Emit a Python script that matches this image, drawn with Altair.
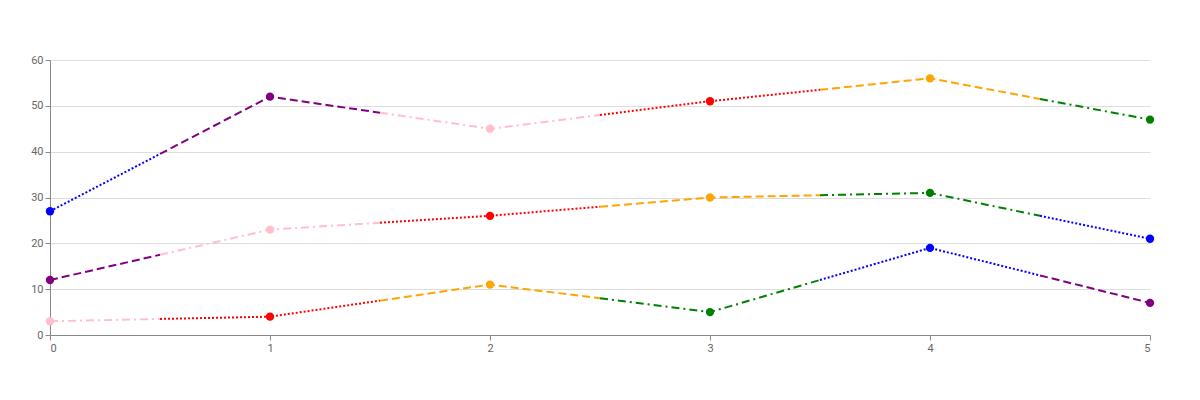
import altair as alt
import pandas as pd

xs = [0, 1, 2, 3, 4, 5]
top_vals = [27, 52, 45, 51, 56, 47]
top_cols = ["blue", "purple", "pink", "red", "orange", "green"]
mid_vals = [12, 23, 26, 30, 31, 21]
mid_cols = ["purple", "pink", "red", "orange", "green", "blue"]
low_vals = [3, 4, 11, 5, 19, 7]
low_cols = ["pink", "red", "orange", "green", "blue", "purple"]

hexes = {"blue": (0, 0, 255), "purple": (128, 0, 128), "pink": (255, 192, 203),
         "red": (255, 0, 0), "orange": (255, 165, 0), "green": (0, 128, 0)}
dashes = {"blue": [2, 2], "red": [2, 2], "purple": [8, 4], "orange": [8, 4],
          "pink": [8, 4, 2, 4], "green": [8, 4, 2, 4]}


def light(c):
    r, g, b = hexes[c]
    return "#%02x%02x%02x" % tuple(round(255 * 0.75 + v * 0.25) for v in (r, g, b))


def segments(name, vals, cols):
    rows = []
    n = len(xs)
    for i in range(n):
        pts = []
        if i > 0:
            pts.append(((xs[i - 1] + xs[i]) / 2, (vals[i - 1] + vals[i]) / 2))
        pts.append((xs[i], vals[i]))
        if i < n - 1:
            pts.append(((xs[i] + xs[i + 1]) / 2, (vals[i] + vals[i + 1]) / 2))
        for k, (x, y) in enumerate(pts):
            rows.append({"series": name, "seg": f"{name}{i}", "x": x, "y": y, "k": k,
                         "col": cols[i], "fill": light(cols[i])})
    return pd.DataFrame(rows)


xsc = alt.Scale(domain=[0, 5], nice=False)
ysc = alt.Scale(domain=[0, 60], nice=False)
dash_scale = alt.Scale(domain=list(dashes), range=list(dashes.values()))

areas, lines, points = [], [], []
for name, vals, cols in [("top", top_vals, top_cols), ("mid", mid_vals, mid_cols), ("low", low_vals, low_cols)]:
    df = segments(name, vals, cols)
    areas.append(alt.Chart(df).mark_area(opacity=1).encode(
        x=alt.X("x:Q", scale=xsc, axis=alt.Axis(values=xs, format="d", grid=False, title=None,
                                                tickColor="#888", domainColor="#888", labelColor="#666")),
        y=alt.Y("y:Q", scale=ysc, stack=None,
                axis=alt.Axis(values=[0, 10, 20, 30, 40, 50, 60], title=None, gridColor="#ddd",
                              tickColor="#888", domainColor="#888", labelColor="#666")),
        fill=alt.Fill("fill:N", scale=None),
        detail="seg:N", order="k:Q"))
    lines.append(alt.Chart(df).mark_line(strokeWidth=2).encode(
        x=alt.X("x:Q", scale=xsc), y=alt.Y("y:Q", scale=ysc),
        stroke=alt.Stroke("col:N", scale=None),
        strokeDash=alt.StrokeDash("col:N", scale=dash_scale, legend=None),
        detail="seg:N", order="k:Q"))
    pdf = pd.DataFrame({"x": xs, "y": vals, "col": cols})
    points.append(alt.Chart(pdf).mark_circle(size=70, opacity=1).encode(
        x=alt.X("x:Q", scale=xsc), y=alt.Y("y:Q", scale=ysc),
        color=alt.Color("col:N", scale=None)))

chart = alt.layer(*areas, *lines, *points).properties(
    width=1100, height=275, autosize="none",
    padding={"left": 42, "top": 52, "right": 42, "bottom": 58}
).configure_view(stroke=None).configure_axis(labelFont="Roboto", labelFontSize=11)

chart.save("out.html", embed_options={"renderer": "svg", "actions": False})
